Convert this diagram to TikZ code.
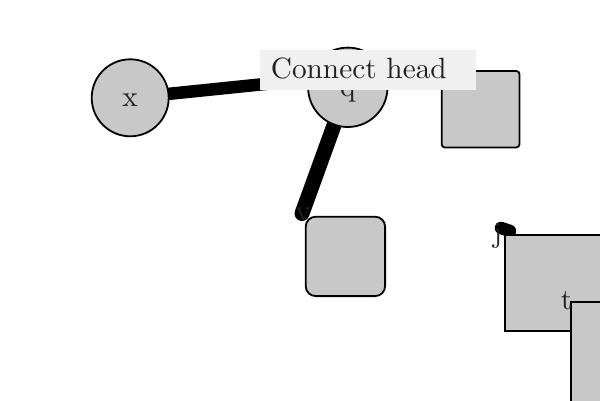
\documentclass[tikz,border=0pt]{standalone}
\usetikzlibrary{backgrounds}
\definecolor{shapefill}{RGB}{200,200,200}
\definecolor{labfill}{RGB}{240,240,240}
\definecolor{txt}{RGB}{34,34,34}
\font\lmbig="[lmroman10-regular.otf]" at 29.3pt
\begin{document}
\begin{tikzpicture}[x=1pt,y=-1pt,
  every node/.style={font=\lmbig, text=txt},
  circ/.style={circle, draw=black, line width=1.8pt, fill=shapefill, inner sep=0pt, text height=18pt, text depth=0pt},
  sq/.style={rectangle, draw=black, line width=1.8pt, fill=shapefill, inner sep=0pt, anchor=north west},
  conn/.style={line width=12.5pt, line cap=round, draw=black},
  letter/.style={inner sep=0pt, anchor=base},
  labelbox/.style={anchor=north west, fill=labfill, inner xsep=10.7pt, inner ysep=5pt, text height=23.3pt, text depth=6pt, text width=194.6pt, align=left}]
\clip (0,0) rectangle (600,400);
\useasboundingbox (0,0) rectangle (600,400);

\node[circ, minimum size=77pt] (x) at (130.2,97.8) {x};
\node[circ, minimum size=79.4pt] (q) at (347.8,87.3) {q};
\node[sq, minimum width=77.7pt, minimum height=76.4pt, rounded corners=3pt] (s1) at (440.8,70.1) {};
\node[sq, minimum width=79.4pt, minimum height=79.4pt, rounded corners=10pt] (s2) at (304.8,215.8) {};
\node[sq, minimum width=200pt, minimum height=96pt] (s3) at (504,234) {};
\node[letter] (t) at (566.5,309) {t};
\node[sq, minimum width=100pt, minimum height=120pt] (s4) at (569.8,300.8) {};
\node[letter] (j) at (497.5,242) {j};

\coordinate (qe) at (309,79.5);
\coordinate (ve) at (302,213.5);
\coordinate (ja) at (501,228);
\coordinate (jb) at (510,231);

\begin{scope}[on background layer]
  \draw[conn] (x) -- (qe);
  \draw[conn, line width=15pt] (q) -- (ve);
  \draw[conn] (ja) -- (jb);
\end{scope}

\node[letter] (v) at (303,220) {v};
\node[labelbox] (lab) at (260,50) {Connect head};
\end{tikzpicture}
\end{document}
